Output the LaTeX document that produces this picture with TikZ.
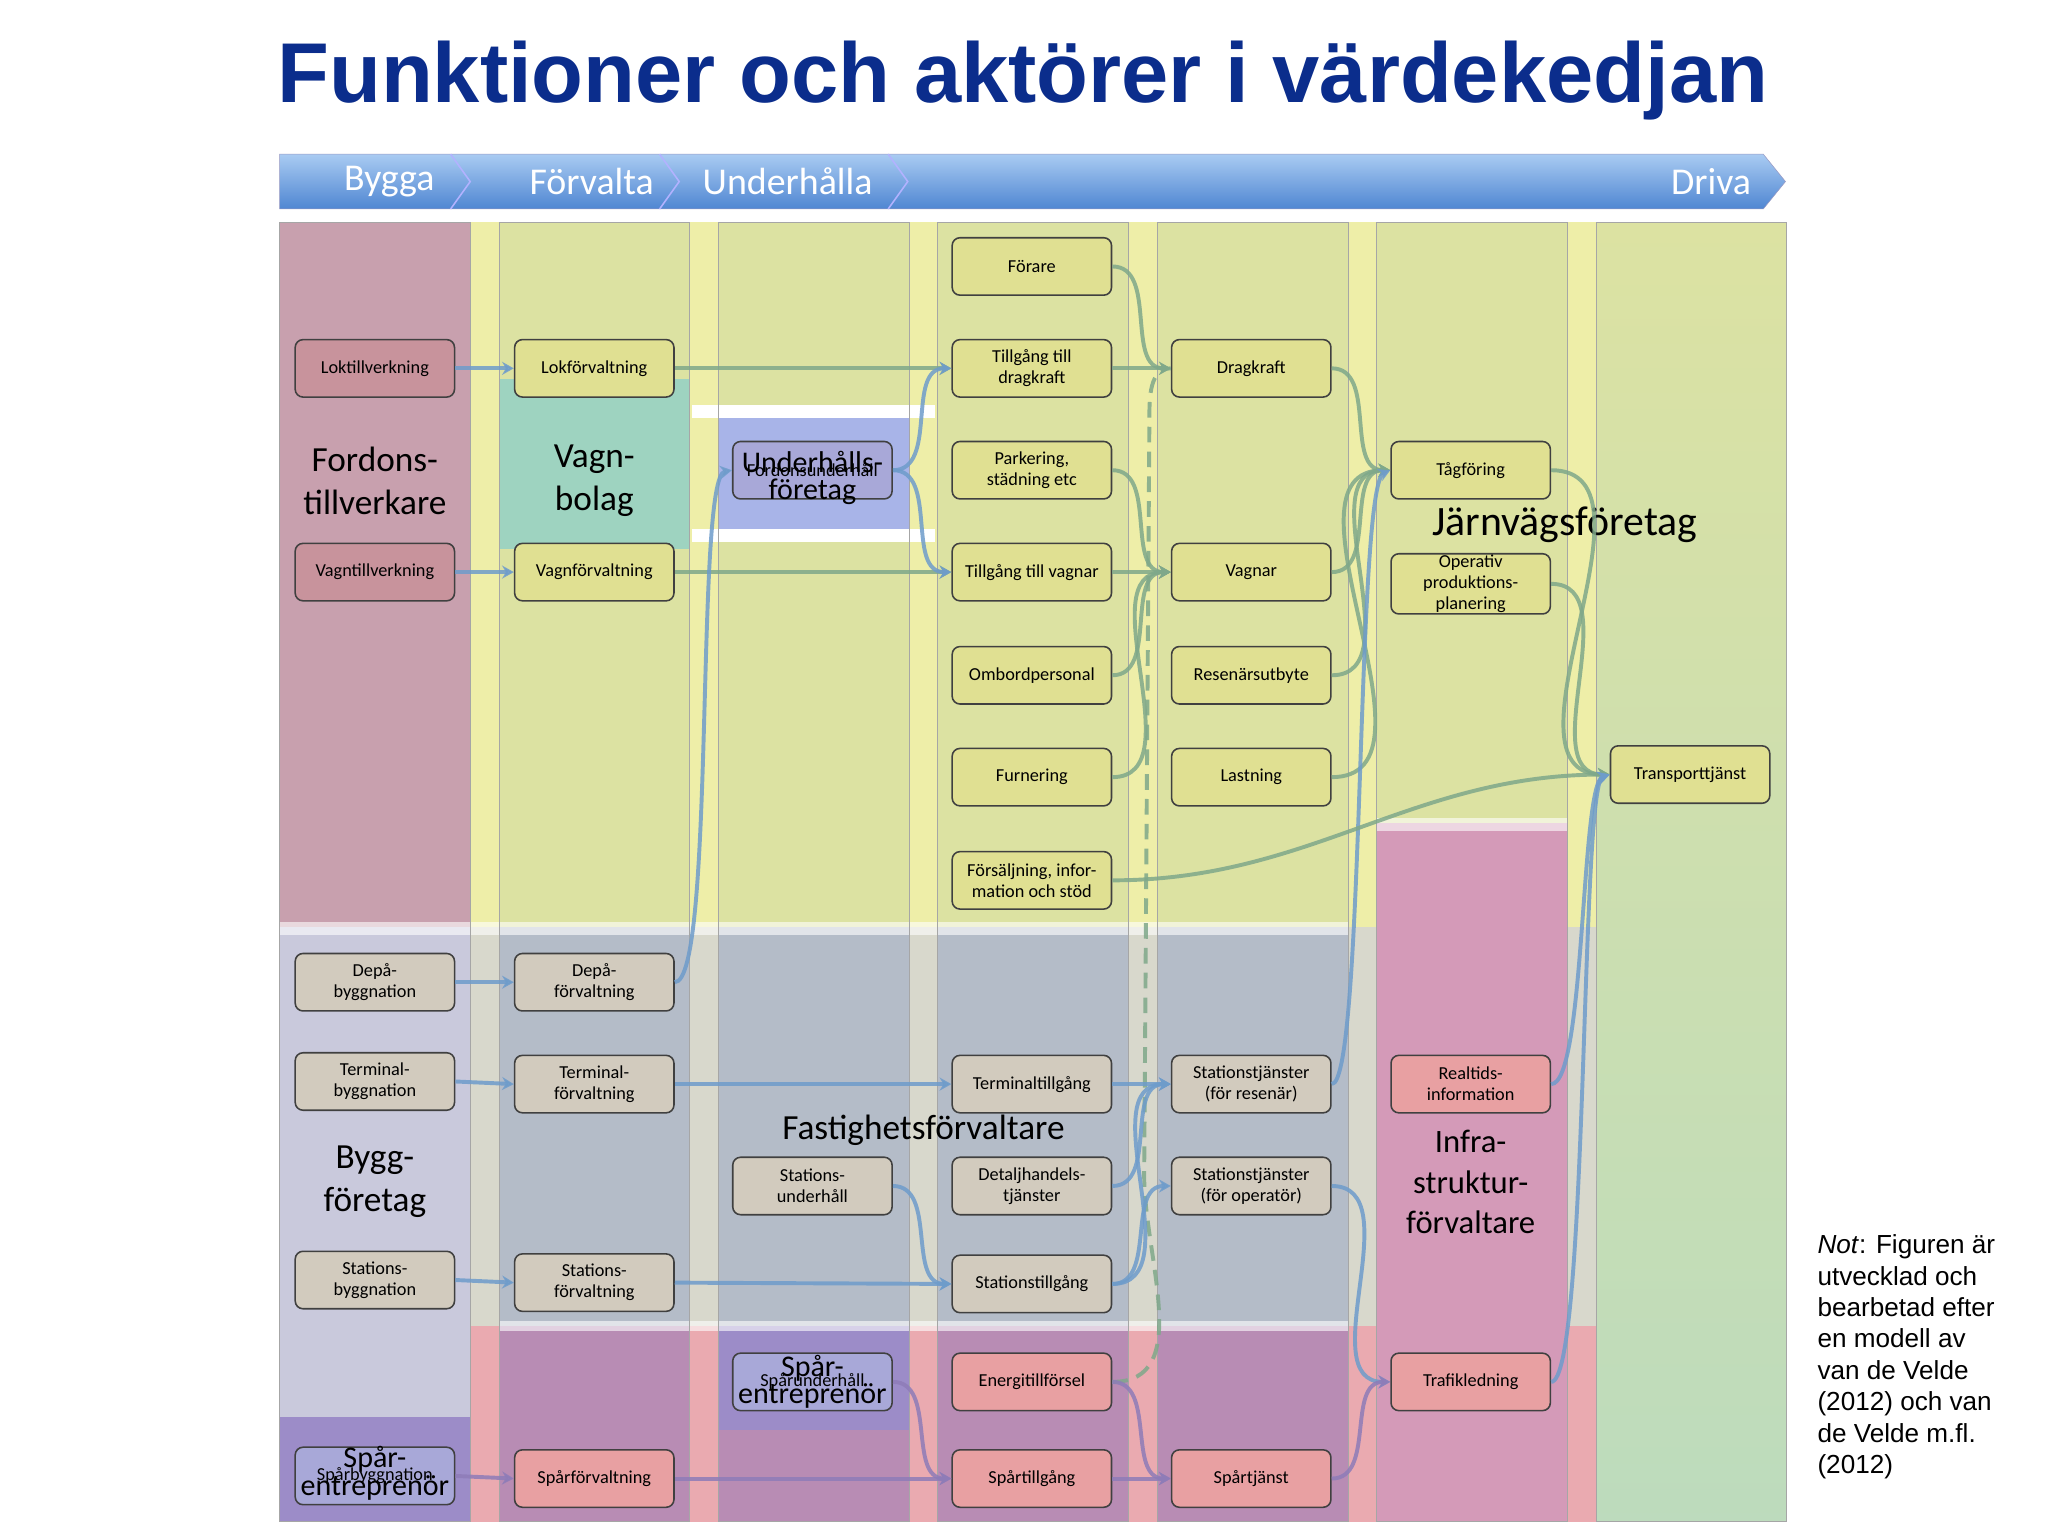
\documentclass[tikz,border=0pt]{standalone}
\usepackage{fontspec}
\setmainfont{Carlito}
\newfontfamily\arialf{Liberation Sans}
\usetikzlibrary{arrows.meta}
\definecolor{ttl}{HTML}{0B2D8C}
\definecolor{ybg}{HTML}{EEEEA8}
\definecolor{gbg}{HTML}{D8D8CC}
\definecolor{pbg}{HTML}{EAAAB0}
\definecolor{cyel}{HTML}{DCE2A2}
\definecolor{cmauve}{HTML}{C8A0AE}
\definecolor{clav}{HTML}{C9C9DC}
\definecolor{cpur}{HTML}{9C8CC8}
\definecolor{cteal}{HTML}{9ED3C0}
\definecolor{cgray}{HTML}{B4BCC8}
\definecolor{cmv2}{HTML}{B88CB4}
\definecolor{cblue}{HTML}{A8B4E8}
\definecolor{cpink}{HTML}{D49AB8}
\definecolor{bY}{HTML}{E0E092}
\definecolor{bM}{HTML}{C8939C}
\definecolor{bG}{HTML}{D2CBBE}
\definecolor{bP}{HTML}{E8A0A2}
\definecolor{bB}{HTML}{A8A8D8}
\definecolor{aG}{HTML}{7FA88A}
\definecolor{aB}{HTML}{6E9CCB}
\definecolor{aP}{HTML}{8E7CB8}
\definecolor{banT}{HTML}{A9CBF2}
\definecolor{banB}{HTML}{4F86D2}
\tikzset{
 bx/.style={draw=black!75,line width=1.2pt,rounded corners=6pt,minimum width=122pt,minimum height=44pt,align=center,font=\fontsize{14}{16}\selectfont,inner sep=1pt},
 big/.style={align=center,font=\fontsize{27}{33}\selectfont},
 ar/.style={line width=3pt,opacity=.85,-{Stealth[length=9pt,width=10pt]}},
 col/.style={draw=black!35,line width=.6pt}
}
\begin{document}
\begin{tikzpicture}[x=1pt,y=-1pt]
\useasboundingbox (0,0) rectangle (1568,1176);
\fill[white] (0,0) rectangle (1568,1176);
\node[font=\arialf\bfseries\fontsize{65}{68}\selectfont,text=ttl] (title) at (783,62) {Funktioner och aktörer i värdekedjan};
% banner
\shade[top color=banT,bottom color=banB,draw=blue!40!black!40] (214,118) -- (1350,118) -- (1367,139) -- (1350,160) -- (214,160) -- cycle;
\foreach \x in {345,505,680}{\draw[white!70!blue,line width=1.2pt] (\x,118) -- (\x+15,139) -- (\x,160);}
\foreach \t/\x in {Bygga/298,Förvalta/453,Underhålla/603,Driva/1310}{\node[text=white,font=\fontsize{29}{30}\selectfont] at (\x,139) {\t};}
% background bands
\fill[ybg] (214,170) rectangle (1367,710);
\fill[gbg] (214,710) rectangle (1367,1015);
\fill[pbg] (214,1015) rectangle (1367,1165);
% columns
\fill[cmauve] (214,170) rectangle (360,710);
\fill[clav] (214,710) rectangle (360,1085);
\fill[cpur] (214,1085) rectangle (360,1165);
\fill[cyel] (382,170) rectangle (528,290);
\fill[cteal] (382,290) rectangle (528,420);
\fill[cyel] (382,420) rectangle (528,710);
\fill[cgray] (382,710) rectangle (528,1015);
\fill[cmv2] (382,1015) rectangle (528,1165);
\fill[cyel] (550,170) rectangle (696,310);
\fill[white] (530,310) rectangle (716,320);
\fill[cblue] (550,320) rectangle (696,405);
\fill[white] (530,405) rectangle (716,415);
\fill[cyel] (550,415) rectangle (696,710);
\fill[cgray] (550,710) rectangle (696,1015);
\fill[cpur] (550,1015) rectangle (696,1095);
\fill[cmv2] (550,1095) rectangle (696,1165);
\foreach \x in {718,886}{
 \fill[cyel] (\x,170) rectangle (\x+146,710);
 \fill[cgray] (\x,710) rectangle (\x+146,1015);
 \fill[cmv2] (\x,1015) rectangle (\x+146,1165);}
\fill[cyel] (1054,170) rectangle (1200,630);
\fill[cpink] (1054,630) rectangle (1200,1165);
\shade[top color=cyel,bottom color=green!30!gray!40] (1222,170) rectangle (1367,1165);
\fill[white,opacity=.6] (214,706) rectangle (1032,716);
\fill[white,opacity=.6] (382,1011) rectangle (1032,1019);
\fill[white,opacity=.6] (1054,626) rectangle (1200,636);
\foreach \x in {214,382,550,718,886,1054,1222}{\draw[col] (\x,170) rectangle (\x+146,1165);}
% big labels
\node[big] (l1) at (287,368) {Fordons-\\tillverkare};
\node[big] (l2) at (455,368) {Vagn-\\bolag};
\node[big] (l3) at (287,905) {Bygg-\\företag};
\node[big,font=\fontsize{32}{34}\selectfont] (l4) at (1198,402) {Järnvägsföretag};
\node[big] (l5) at (707,865) {Fastighetsförvaltare};
\node[big,font=\fontsize{25}{31}\selectfont] (l6) at (1126,905) {Infra-\\struktur-\\förvaltare};
% boxes col1
\node[bx,fill=bM] (a1) at (287,282) {Loktillverkning};
\node[bx,fill=bM] (a2) at (287,438) {Vagntillverkning};
\node[bx,fill=bG] (a3) at (287,752) {Depå-\\byggnation};
\node[bx,fill=bG] (a4) at (287,828) {Terminal-\\byggnation};
\node[bx,fill=bG] (a5) at (287,980) {Stations-\\byggnation};
\node[bx,fill=bB] (a6) at (287,1130) {Spårbyggnation};
\node[font=\fontsize{23}{21}\selectfont,align=center] at (287,1128) {Spår-\\entreprenör};
% col2
\node[bx,fill=bY] (b1) at (455,282) {Lokförvaltning};
\node[bx,fill=bY] (b2) at (455,438) {Vagnförvaltning};
\node[bx,fill=bG] (b3) at (455,752) {Depå-\\förvaltning};
\node[bx,fill=bG] (b4) at (455,830) {Terminal-\\förvaltning};
\node[bx,fill=bG] (b5) at (455,982) {Stations-\\förvaltning};
\node[bx,fill=bP] (b6) at (455,1132) {Spårförvaltning};
% col3
\node[bx,fill=bB] (c1) at (622,360) {Fordonsunderhåll};
\node[font=\fontsize{23}{21}\selectfont,align=center] at (622,366) {Underhålls-\\företag};
\node[bx,fill=bG] (c2) at (622,908) {Stations-\\underhåll};
\node[bx,fill=bB] (c3) at (622,1058) {Spårunderhåll};
\node[font=\fontsize{23}{21}\selectfont,align=center] at (622,1058) {Spår-\\entreprenör};
% col4
\node[bx,fill=bY] (d1) at (790,204) {Förare};
\node[bx,fill=bY] (d2) at (790,282) {Tillgång till\\dragkraft};
\node[bx,fill=bY] (d3) at (790,360) {Parkering,\\städning etc};
\node[bx,fill=bY] (d4) at (790,438) {Tillgång till vagnar};
\node[bx,fill=bY] (d5) at (790,517) {Ombordpersonal};
\node[bx,fill=bY] (d6) at (790,595) {Furnering};
\node[bx,fill=bY] (d7) at (790,674) {Försäljning, infor-\\mation och stöd};
\node[bx,fill=bG] (d8) at (790,830) {Terminaltillgång};
\node[bx,fill=bG] (d9) at (790,908) {Detaljhandels-\\tjänster};
\node[bx,fill=bG] (d10) at (790,983) {Stationstillgång};
\node[bx,fill=bP] (d11) at (790,1058) {Energitillförsel};
\node[bx,fill=bP] (d12) at (790,1132) {Spårtillgång};
% col5
\node[bx,fill=bY] (e1) at (958,282) {Dragkraft};
\node[bx,fill=bY] (e2) at (958,438) {Vagnar};
\node[bx,fill=bY] (e3) at (958,517) {Resenärsutbyte};
\node[bx,fill=bY] (e4) at (958,595) {Lastning};
\node[bx,fill=bG] (e5) at (958,830) {Stationstjänster\\(för resenär)};
\node[bx,fill=bG] (e6) at (958,908) {Stationstjänster\\(för operatör)};
\node[bx,fill=bP] (e7) at (958,1132) {Spårtjänst};
% col6
\node[bx,fill=bY] (f1) at (1126,360) {Tågföring};
\node[bx,fill=bY] (f2) at (1126,447) {Operativ\\produktions-\\planering};
\node[bx,fill=bP] (f3) at (1126,830) {Realtids-\\information};
\node[bx,fill=bP] (f4) at (1126,1058) {Trafikledning};
% col7
\node[bx,fill=bY] (g1) at (1294,593) {Transporttjänst};
% arrows
\foreach \p/\q in {a1/b1,a2/b2}{\draw[ar,aB] (\p.east) -- (\q.west);}
\foreach \p/\q in {a3/b3,a4/b4,a5/b5}{\draw[ar,aB] (\p.east) -- (\q.west);}
\draw[ar,aP] (a6.east) -- (b6.west);
\draw[ar,aG] (b1.east) -- (d2.west);
\draw[ar,aG] (b2.east) -- (d4.west);
\draw[ar,aB] (b3.east) .. controls (548,752) and (532,365) .. (c1.west);
\draw[ar,aB] (c1.east) to[out=0,in=180] (d2.west);
\draw[ar,aB] (c1.east) to[out=0,in=180] (d4.west);
\draw[ar,aB] (b4.east) -- (d8.west);
\draw[ar,aB] (b5.east) -- (d10.west);
\draw[ar,aB] (c2.east) to[out=0,in=180] (d10.west);
\draw[ar,aP] (b6.east) -- (d12.west);
\draw[ar,aP] (c3.east) to[out=0,in=180] (d12.west);
\foreach \p in {d1,d2}{\draw[ar,aG] (\p.east) to[out=0,in=180] (e1.west);}
\foreach \p in {d3,d4,d5,d6}{\draw[ar,aG] (\p.east) to[out=0,in=180] (e2.west);}
\draw[aG,line width=3pt,dash pattern=on 12pt off 7pt,opacity=.85] (d11.east) to[out=0,in=270] (876,900) -- (880,320) to[out=90,in=180] (e1.west);
\foreach \p in {d8,d9,d10}{\draw[ar,aB] (\p.east) to[out=0,in=180] (e5.west);}
\draw[ar,aB] (d10.east) to[out=0,in=180] (e6.west);
\foreach \p in {d11,d12}{\draw[ar,aP] (\p.east) to[out=0,in=180] (e7.west);}
\foreach \p in {e1,e2,e3,e4}{\draw[ar,aG] (\p.east) to[out=0,in=180] (f1.west);}
\draw[ar,aB] (e5.east) .. controls (1045,830) and (1038,372) .. (f1.west);
\draw[ar,aB] (e6.east) to[out=0,in=180] (f4.west);
\draw[ar,aP] (e7.east) to[out=0,in=180] (f4.west);
\foreach \p in {f1,f2}{\draw[ar,aG] (\p.east) to[out=0,in=180] (g1.west);}
\draw[ar,aG] (d7.east) to[out=0,in=180] (g1.west);
\draw[ar,aB] (f3.east) .. controls (1214,830) and (1210,600) .. (g1.west);
\draw[ar,aB] (f4.east) .. controls (1216,1058) and (1210,600) .. (g1.west);
% note
\node[anchor=north west,align=left,font=\arialf\fontsize{20}{24}\selectfont] (note) at (1388,942) {\textit{Not}: Figuren är\\utvecklad och\\bearbetad efter\\en modell av\\van de Velde\\(2012) och van\\de Velde m.fl.\\(2012)};
\end{tikzpicture}
\end{document}
